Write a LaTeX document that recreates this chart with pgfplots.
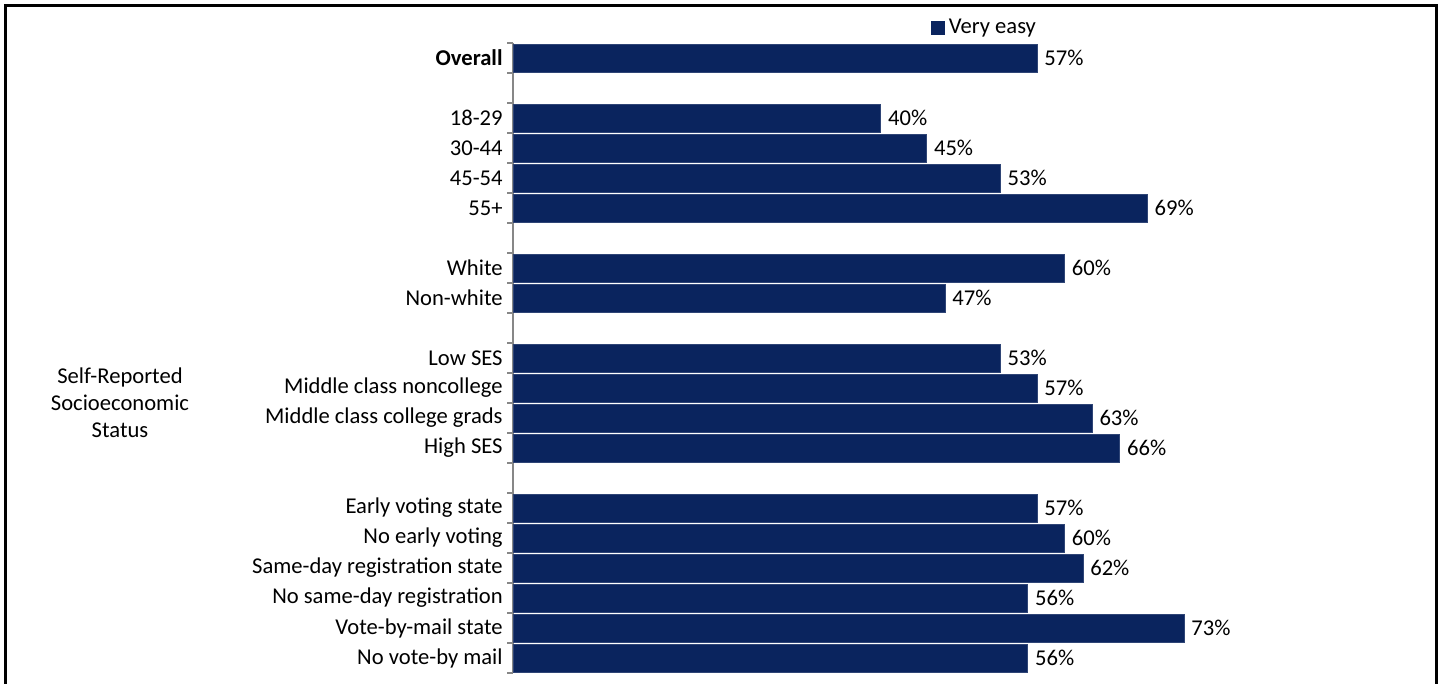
\documentclass[border=0pt]{standalone}
\usepackage{pgfplots}
\pgfplotsset{compat=1.18}
\usepackage{fontspec}
\setmainfont{Carlito}
\definecolor{navy}{RGB}{10,36,94}
\definecolor{axgray}{RGB}{135,135,135}
\begin{document}
\fontsize{11.3}{13.5}\selectfont
\begin{tikzpicture}
\useasboundingbox (0,0) rectangle (721.5pt,342pt);
\begin{axis}[
  at={(256.5pt,5.5pt)}, anchor=south west,
  scale only axis, width=459.6pt, height=315pt,
  xmin=0, xmax=100, ymin=-0.5, ymax=20.5, y dir=reverse,
  axis x line=none, axis y line*=left,
  y axis line style={draw=axgray, line width=0.6pt, -},
  xbar, bar width=0.93, bar shift=0pt,
  ytick={0,2,3,4,5,7,8,10,11,12,13,15,16,17,18,19,20},
  yticklabels={\textbf{Overall},18-29,30-44,45-54,55+,White,Non-white,Low SES,Middle class noncollege,Middle class college grads,High SES,Early voting state,No early voting,Same-day registration state,No same-day registration,Vote-by-mail state,No vote-by mail},
  minor ytick={-0.5,0.5,...,20.5},
  tick align=outside, major tick length=0pt, minor tick length=3pt,
  minor tick style={draw=axgray, line width=0.6pt},
  yticklabel style={font=\fontsize{11.3}{13.5}\selectfont, inner sep=1pt, xshift=-4pt},
  point meta=x,
  nodes near coords={\pgfmathprintnumber{\pgfplotspointmeta}\%},
  nodes near coords style={font=\fontsize{11.3}{13.5}\selectfont, inner sep=3.5pt},
  /pgf/number format/assume math mode=true,
  legend style={at={(0.514,1.024)}, anchor=center, draw=none, fill=none, inner sep=0pt,
    font=\fontsize{11.3}{13.5}\selectfont},
  legend image code/.code={\fill[navy] (0pt,-3.25pt) rectangle (6.5pt,3.25pt);},
  clip=false,
]
\addplot[fill=navy, draw=navy!85!white, line width=0.4pt] coordinates {
(57,0) (40,2) (45,3) (53,4) (69,5) (60,7) (47,8) (53,10) (57,11) (63,12) (66,13)
(57,15) (60,16) (62,17) (56,18) (73,19) (56,20)};
\addlegendentry{Very easy}
\end{axis}
\node[align=center, font=\fontsize{11.3}{13.5}\selectfont] at (60pt,140.5pt) {Self-Reported\\Socioeconomic\\Status};
\draw[line width=1.5pt] (2.75pt,0) -- (2.75pt,339.25pt) -- (718.25pt,339.25pt) -- (718.25pt,0);
\end{tikzpicture}
\end{document}
